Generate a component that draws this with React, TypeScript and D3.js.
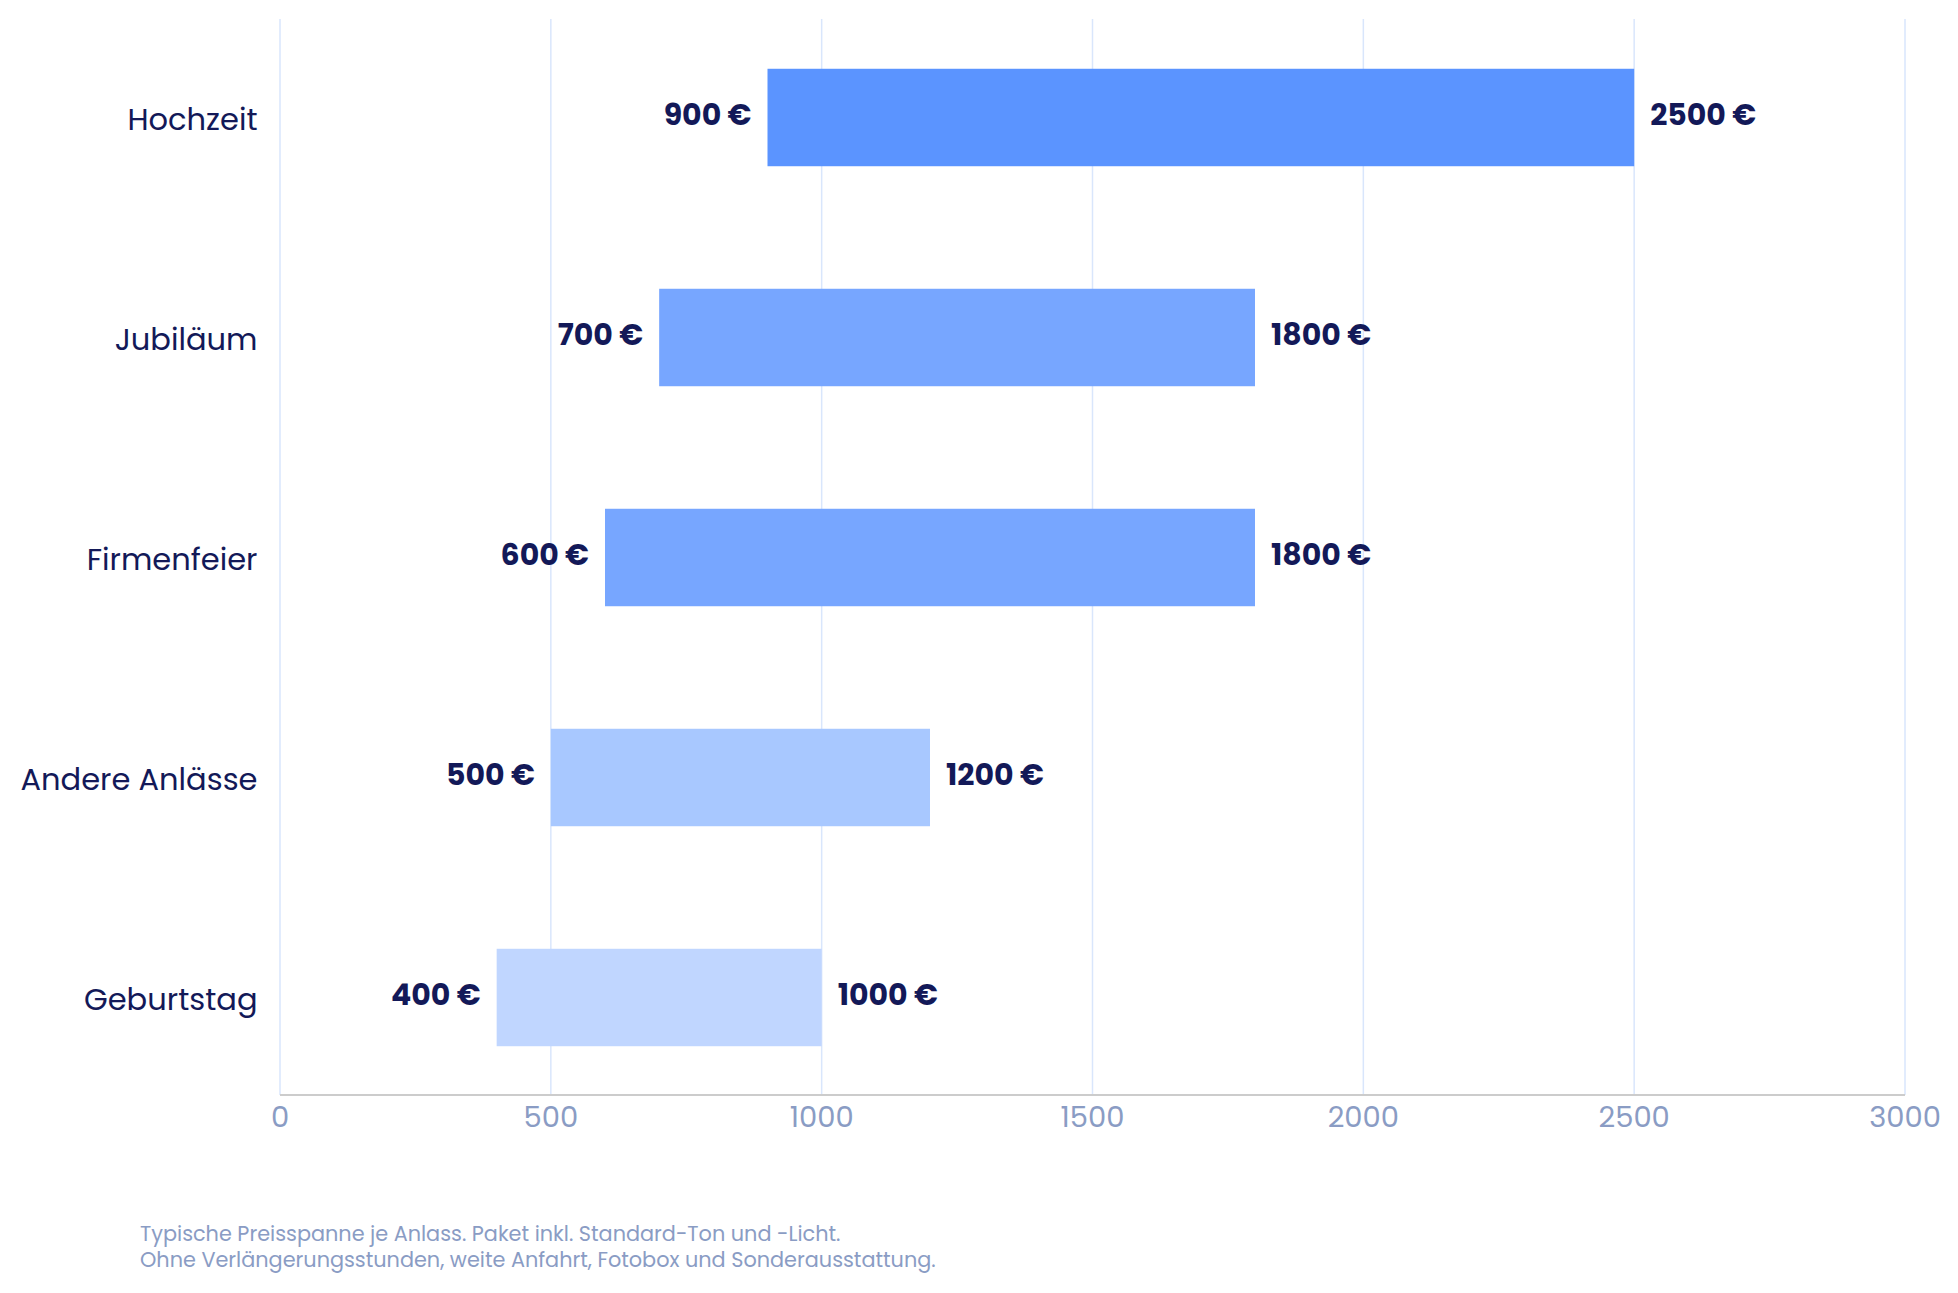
import React from 'react';
import * as d3 from 'd3';

// Price range per occasion (EUR)
const categories = ['Hochzeit', 'Jubiläum', 'Firmenfeier', 'Andere Anlässe', 'Geburtstag'];
const minPrices = [900, 700, 600, 500, 400];
const maxPrices = [2500, 1800, 1800, 1200, 1000];
const barColors = ['#5b94ff', '#77a6ff', '#77a6ff', '#a8c8ff', '#c0d6ff'];
const xTicks = [0, 500, 1000, 1500, 2000, 2500, 3000];
const footnote = [
  'Typische Preisspanne je Anlass. Paket inkl. Standard-Ton und -Licht.',
  'Ohne Verlängerungsstunden, weite Anfahrt, Fotobox und Sonderausstattung.',
];

const WIDTH = 1958;
const HEIGHT = 1293;
const FONT = "Poppins, 'Noto Sans', 'Open Sans', sans-serif";
const NAVY = '#131958';
const MUTED = '#8a9cc4';

export default function App() {
  React.useEffect(() => {
    document.body.style.margin = '0';
  }, []);

  const plot = { left: 280, right: 1905, top: 19, bottom: 1095 };

  const x = d3.scaleLinear().domain([0, 3000]).range([plot.left, plot.right]);
  const y = d3
    .scaleBand<string>()
    .domain(categories)
    .range([7.5, 1107.5])
    .paddingInner(0.557)
    .paddingOuter(0.2785);

  const rows = categories.map((c, i) => ({
    name: c,
    lo: minPrices[i],
    hi: maxPrices[i],
    color: barColors[i],
  }));

  return (
    <svg width={WIDTH} height={HEIGHT} style={{ display: 'block', background: '#fff' }} fontFamily={FONT}>
      {/* vertical grid */}
      {xTicks.map(t => (
        <line key={t} x1={x(t)} x2={x(t)} y1={plot.top} y2={plot.bottom} stroke="#d9e6fc" strokeWidth={1.5} />
      ))}

      {/* bars */}
      {rows.map(d => {
        const yc = (y(d.name) ?? 0) + y.bandwidth() / 2;
        return (
          <g key={d.name}>
            <rect
              x={x(d.lo)}
              y={y(d.name)}
              width={x(d.hi) - x(d.lo)}
              height={y.bandwidth()}
              fill={d.color}
            />
            <text
              x={x(d.lo) - 16}
              y={yc - 3.5}
              textAnchor="end"
              dominantBaseline="central"
              fontSize={30}
              fontWeight={700}
              fill={NAVY}
            >
              {d.lo} €
            </text>
            <text
              x={x(d.hi) + 16}
              y={yc - 3.5}
              dominantBaseline="central"
              fontSize={30}
              fontWeight={700}
              fill={NAVY}
            >
              {d.hi} €
            </text>
            <text
              x={257.5}
              y={yc + 1.5}
              textAnchor="end"
              dominantBaseline="central"
              fontSize={30.5}
              fill={NAVY}
            >
              {d.name}
            </text>
          </g>
        );
      })}

      {/* x axis */}
      <line x1={plot.left} x2={plot.right} y1={plot.bottom} y2={plot.bottom} stroke="#cccccc" strokeWidth={2} />
      {xTicks.map(t => (
        <text key={t} x={x(t)} y={1127} textAnchor="middle" fontSize={29} fill={MUTED}>
          {t}
        </text>
      ))}

      {/* footnote */}
      {footnote.map((line, i) => (
        <text key={i} x={140} y={1241 + i * 26} fontSize={20.8} fill={MUTED}>
          {line}
        </text>
      ))}
    </svg>
  );
}
